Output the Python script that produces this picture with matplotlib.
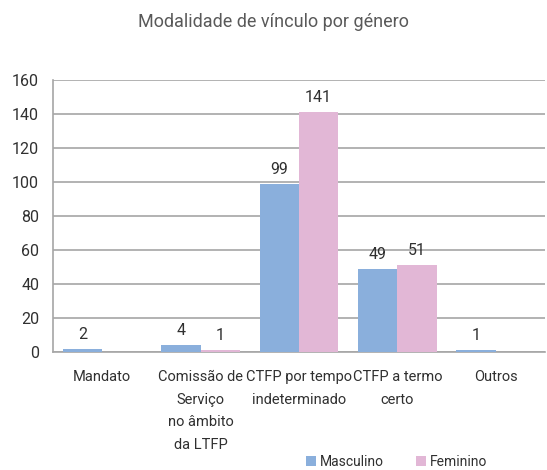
import numpy as np
import matplotlib.pyplot as plt

# -----------------------------
# Data
# -----------------------------
categories = ["Mandato", "Comissão de\nServiço\nno âmbito\nda LTFP",
              "CTFP por tempo\nindeterminado", "CTFP a termo\ncerto", "Outros"]
masculino = [2, 4, 99, 49, 1]
feminino = [0, 1, 141, 51, 0]
yticks = [0, 20, 40, 60, 80, 100, 120, 140, 160]

plt.rcParams['font.family'] = ['Roboto', 'DejaVu Sans']

# -----------------------------
# Plot
# -----------------------------
fig = plt.figure(figsize=(5.47, 4.70), dpi=100)
ax = fig.add_axes([0.097, 0.251, 0.899, 0.579])

x = np.arange(len(categories))
w = 0.4
b1 = ax.bar(x - w / 2, masculino, w, color="#8aafdc", label="Masculino", zorder=3)
b2 = ax.bar(x + w / 2, feminino, w, color="#e2b7d6", label="Feminino", zorder=3)

for bars, vals in ((b1, masculino), (b2, feminino)):
    for bar, v in zip(bars, vals):
        if v > 0:
            ax.annotate(str(v), (bar.get_x() + bar.get_width() / 2, v),
                        xytext=(0, 5), textcoords="offset points",
                        ha="center", va="bottom", fontsize=11.5, color="#303030")

ax.set_xlim(-0.5, len(categories) - 0.5)
ax.set_ylim(0, 160)
ax.set_yticks(yticks)
ax.set_xticks(x)
ax.set_xticklabels(categories, fontsize=10.5, color="#303030", va="top",
                   linespacing=1.78)
ax.tick_params(axis="y", labelsize=11.5, labelcolor="#303030", length=0, pad=10)
ax.tick_params(axis="x", length=0, pad=13)

ax.grid(axis="y", color="#a6a6a6", linewidth=1.2, zorder=0)
for s in ("top", "right"):
    ax.spines[s].set_visible(False)
for s in ("left", "bottom"):
    ax.spines[s].set_color("#a6a6a6")
    ax.spines[s].set_linewidth(1.2)

fig.text(0.5, 0.953, "Modalidade de vínculo por género", ha="center", va="center",
         fontsize=13, color="#595959")

fig.legend(handles=[b1, b2], loc="center", bbox_to_anchor=(0.725, 0.017),
           ncol=2, frameon=False, fontsize=10, handlelength=0.7,
           handleheight=0.7, handletextpad=0.3, columnspacing=2.3,
           labelcolor="#303030")

fig.savefig("out.png", dpi=100)
